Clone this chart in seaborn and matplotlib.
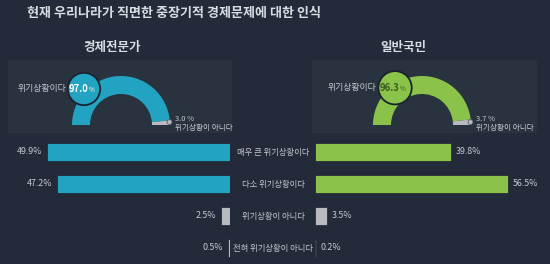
"""Perception of mid/long-term economic problems: experts vs. general public."""
import matplotlib
matplotlib.use("Agg")
import matplotlib.pyplot as plt
import matplotlib.transforms as mtransforms
from matplotlib.patches import Circle, FancyBboxPatch
import seaborn as sns

# --- data ---
title = "현재 우리나라가 직면한 중장기적 경제문제에 대한 인식"
groups = ["경제전문가", "일반국민"]
gauge_labels = ["위기상황이다", "위기상황이 아니다"]
expert_gauge = [97.0, 3.0]
public_gauge = [96.3, 3.7]
categories = ["매우 큰 위기상황이다", "다소 위기상황이다", "위기상황이 아니다", "전혀 위기상황이 아니다"]
expert_values = [49.9, 47.2, 2.5, 0.5]
public_values = [39.8, 56.5, 3.5, 0.2]

BG = "#232b3a"
PANEL = "#29323f"
TXT = "#d9dde3"
SUB = "#c3c8cf"
BLUE = "#22a3c1"
GREEN = "#8bc34a"
GREY = "#b9bac0"

sns.set_theme(style="white")
FONT = ["Noto Sans CJK KR", "DejaVu Sans"]
plt.rcParams["font.family"] = FONT

W, H = 550, 264
fig = plt.figure(figsize=(W / 100, H / 100), dpi=100, facecolor=BG)


def box(x0, y0, x1, y1):
    """pixel box (top-left origin) -> figure rect"""
    return [x0 / W, 1 - y1 / H, (x1 - x0) / W, (y1 - y0) / H]


# title and group headers
fig.text(27 / W, 1 - 13 / H, title, color=TXT, fontsize=9.4, fontweight="bold",
         ha="left", va="center")
fig.text(112 / W, 1 - 47 / H, groups[0], color=TXT, fontsize=9, fontweight="bold",
         ha="center", va="center")
fig.text(403 / W, 1 - 47 / H, groups[1], color=TXT, fontsize=9, fontweight="bold",
         ha="center", va="center")

# gauge panels
for x0, x1 in [(8, 232), (312, 537)]:
    fig.patches.append(FancyBboxPatch((x0 / W, 1 - 133 / H), (x1 - x0) / W, 73 / H,
                                      boxstyle="round,pad=0,rounding_size=0.005",
                                      transform=fig.transFigure, fc=PANEL, ec="none",
                                      zorder=-1))


def gauge(cx, cy, r, vals, color, bubble, num_color):
    half = 55
    ax = fig.add_axes(box(cx - half, cy - half, cx + half, cy + half))
    ax.patch.set_visible(False)
    ax.pie(vals + [sum(vals)], colors=[color, GREY, "none"], startangle=180,
           counterclock=False, radius=1,
           wedgeprops=dict(width=18 / r, edgecolor="none"))
    lim = half / r
    ax.set_xlim(-lim, lim)
    ax.set_ylim(-lim, lim)
    ax.set_axis_off()
    # end dot
    ax.add_patch(Circle((0.99, 0.06), 0.05, fc=GREY, ec="#555b66", lw=0.6, zorder=6))
    # value bubble
    bx, by, br = bubble
    ax.add_patch(Circle((bx, by), br, fc=color, ec="#1b2230", lw=1.3, zorder=5))
    ax.text(bx + 0.09, by, f"{vals[0]:.1f}", color=num_color, fontsize=6.8,
            fontweight="bold", ha="right", va="center", zorder=7)
    ax.text(bx + 0.1, by - 0.03, "%", color=num_color, fontsize=4.6,
            ha="left", va="center", zorder=7)
    ax.text(bx - br - 0.04, by, gauge_labels[0], color=SUB, fontsize=6.4,
            ha="right", va="center")
    ax.text(1.1, 0.12, f"{vals[1]:.1f} %", color=SUB, fontsize=5.5,
            ha="left", va="center")
    ax.text(1.1, -0.07, gauge_labels[1], color=SUB, fontsize=5.5,
            ha="left", va="center")


gauge(121, 125, 49, expert_gauge, BLUE, (-0.755, 0.735, 0.33), "white")
gauge(422, 125, 49, public_gauge, GREEN, (-0.55, 0.76, 0.34), "#3d5a22")

# bar charts
ax_l = fig.add_axes(box(30, 136, 230, 264))
ax_r = fig.add_axes(box(315, 136, 535, 264))
specs = [(ax_l, expert_values, BLUE, 200 / 3.67, True),
         (ax_r, public_values, GREEN, 220 / 3.42, False)]
for ax, vals, color, xmax, flip in specs:
    pal = [color, color, GREY, GREY]
    sns.barplot(x=vals, y=categories, hue=categories, palette=pal, legend=False,
                orient="h", width=0.54, ax=ax, edgecolor="#1a2130", linewidth=0.5,
                saturation=1)
    ax.set_xlim((xmax, 0) if flip else (0, xmax))
    ax.set_ylim(3.5, -0.5)
    ax.set_axis_off()
    for cont in ax.containers:
        ax.bar_label(cont, fmt="%.1f%%", padding=3.5, color=SUB, fontsize=6.4)

# center category labels
trans = mtransforms.blended_transform_factory(fig.transFigure, ax_l.transData)
for i, cat in enumerate(categories):
    ax_l.text(273 / W, i, cat, transform=trans, color=SUB, fontsize=6.0,
              ha="center", va="center", clip_on=False)

fig.savefig("out.png", dpi=100, facecolor=BG)
